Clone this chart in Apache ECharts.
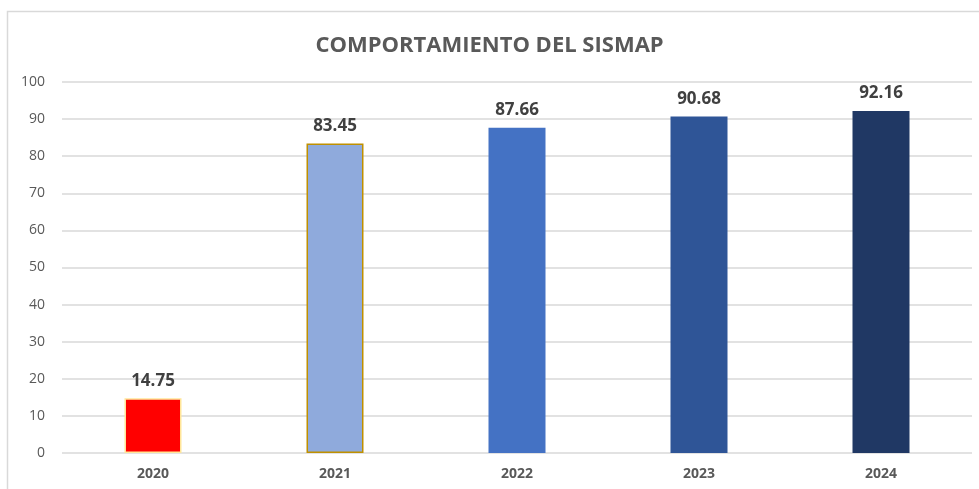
<!DOCTYPE html>
<html>
<head>
<meta charset="utf-8">
<script src="https://cdn.jsdelivr.net/npm/echarts@6/dist/echarts.min.js"></script>
<style>
html,body{margin:0;padding:0;background:#fff;}
#chart{width:979px;height:489px;}
</style>
</head>
<body>
<div id="chart"></div>
<script>
var years = ['2020', '2021', '2022', '2023', '2024'];
var scores = [14.75, 83.45, 87.66, 90.68, 92.16];
var barColors = ['#FF0000', '#8FAADC', '#4472C4', '#2F5597', '#203864'];
var barBorders = ['#FFE699', '#BF9000', '#4472C4', '#2F5597', '#203864'];

var chart = echarts.init(document.getElementById('chart'));

var barData = scores.map(function(v, i){
	return {
		value: v,
		itemStyle: {color: barColors[i], borderColor: barBorders[i], borderWidth: i < 2 ? 1.5 : 0}
	};
});

chart.setOption({
	animation: false,
	title: {
		text: 'COMPORTAMIENTO DEL SISMAP',
		left: 'center',
		top: 30,
		textStyle: {fontFamily: 'Open Sans', fontWeight: 'bold', fontSize: 22, color: '#595959'}
	},
	graphic: [{
		type: 'rect',
		shape: {x: 7.5, y: 11.5, width: 990, height: 500},
		style: {fill: 'none', stroke: '#d9d9d9', lineWidth: 1.5},
		silent: true
	}],
	grid: {left: 62, right: 7, top: 82, bottom: 36, containLabel: false},
	xAxis: {
		type: 'category',
		data: years,
		axisTick: {show: false},
		axisLine: {show: false},
		axisLabel: {fontFamily: 'Open Sans', fontWeight: 'bold', fontSize: 14, color: '#595959', margin: 14}
	},
	yAxis: {
		type: 'value',
		min: 0, max: 100, interval: 10,
		axisLine: {show: false},
		axisTick: {show: false},
		splitLine: {lineStyle: {color: '#d9d9d9', width: 1.5}},
		axisLabel: {fontFamily: 'Open Sans', fontSize: 14, color: '#595959', margin: 17}
	},
	series: [{
		type: 'bar',
		data: barData,
		barWidth: 57,
		label: {
			show: true,
			position: 'top',
			distance: 9,
			formatter: function(p){ return p.value.toFixed(2); },
			fontFamily: 'Open Sans', fontWeight: 'bold', fontSize: 17, color: '#404040'
		}
	}]
});
</script>
</body>
</html>
